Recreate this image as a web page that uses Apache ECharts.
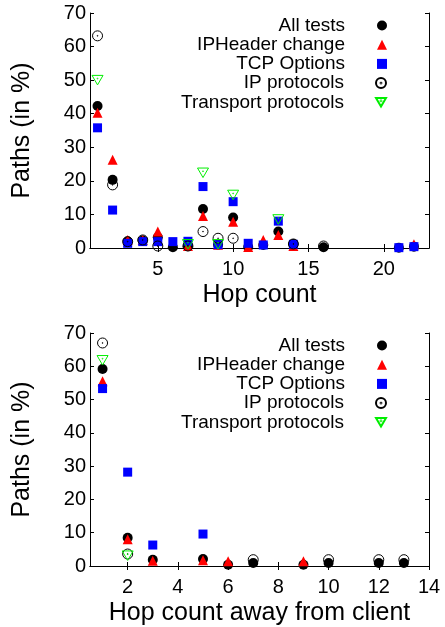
<!DOCTYPE html>
<html>
<head>
<meta charset="utf-8">
<script src="https://cdn.jsdelivr.net/npm/echarts@6/dist/echarts.min.js"></script>
<style>
  html, body { margin: 0; padding: 0; background: #fff; }
  #chart { width: 445px; height: 627px; }
</style>
</head>
<body>
<div id="chart"></div>
<script>
// series names (legend order)
const seriesNames = ['All tests', 'IPHeader change', 'TCP Options', 'IP protocols', 'Transport protocols'];

// top chart: [hop count, % of paths]
const topAll = [[1, 42.3], [2, 20.3], [3, 1.9], [4, 2.2], [5, 3.2], [6, 0.2], [7, 0.5], [8, 11.6], [9, 1.0], [10, 9.1], [11, 0.3], [12, 0.9], [13, 4.9], [14, 1.2], [16, 0.2], [21, 0.1], [22, 0.4]];
const topIPHeader = [[1, 40.3], [2, 26.3], [3, 2.4], [4, 2.4], [5, 4.9], [7, 0.6], [8, 9.5], [9, 1.0], [10, 7.8], [11, 0.3], [12, 2.4], [13, 3.9], [14, 0.6], [22, 1.1]];
const topTCP = [[1, 35.8], [2, 11.3], [3, 1.4], [4, 1.9], [5, 1.9], [6, 1.9], [7, 2.0], [8, 18.3], [9, 1.0], [10, 13.8], [11, 1.4], [12, 0.9], [13, 8.0], [14, 1.1], [21, 0.1], [22, 0.4]];
const topIPProto = [[1, 63.2], [2, 18.8], [3, 1.9], [4, 2.4], [5, 0.6], [7, 0.6], [8, 4.9], [9, 2.9], [10, 2.9], [14, 1.2], [16, 0.6]];
const topTransport = [[1, 50.0], [7, 1.1], [8, 22.4], [9, 1.1], [10, 15.8], [13, 8.5]];

// bottom chart: [hop count away from client, % of paths]
const botAll = [[1, 59.2], [2, 8.5], [3, 1.9], [5, 2.1], [6, 0.4], [7, 0.9], [9, 0.4], [10, 0.9], [12, 0.9], [13, 0.9]];
const botIPHeader = [[1, 55.5], [2, 8.0], [3, 1.6], [5, 1.7], [6, 1.4], [9, 1.4]];
const botTCP = [[1, 53.3], [2, 28.2], [3, 6.3], [5, 9.6]];
const botIPProto = [[1, 67.0], [2, 3.6], [7, 1.9], [10, 1.9], [12, 1.9], [13, 1.9]];
const botTransport = [[1, 61.8], [2, 3.1]];

// axis ticks
const topXTicks = [5, 10, 15, 20];
const botXTicks = [2, 4, 6, 8, 10, 12, 14];

const chart = echarts.init(document.getElementById('chart'), null, { renderer: 'canvas' });

const FONT = 'Liberation Sans';
const ringDot = 'path://M10 0A10 10 0 1 1 10 20A10 10 0 1 1 10 0ZM10 9.2A0.8 0.8 0 1 1 10 10.8A0.8 0.8 0 1 1 10 9.2Z';
const downTriDot = 'path://M0 0L20 0L10 17.3ZM10 5A0.8 0.8 0 1 1 10 6.6A0.8 0.8 0 1 1 10 5Z';

// marker style per series
const styles = [
  { symbol: 'circle', symbolSize: 10, itemStyle: { color: '#000', opacity: 1 } },
  { symbol: 'triangle', symbolSize: 10, itemStyle: { color: '#ff0000', opacity: 1 } },
  { symbol: 'rect', symbolSize: 9, itemStyle: { color: '#0000ff', opacity: 1 } },
  { symbol: ringDot, symbolSize: 10, itemStyle: { color: 'rgba(0,0,0,0)', borderColor: '#000', borderWidth: 1, opacity: 1 } },
  { symbol: downTriDot, symbolSize: 11, itemStyle: { color: 'rgba(0,0,0,0)', borderColor: '#00ee00', borderWidth: 1, opacity: 1 } }
];

const topData = [topAll, topIPHeader, topTCP, topIPProto, topTransport];
const botData = [botAll, botIPHeader, botTCP, botIPProto, botTransport];

function makeSeries(dataList, axisIdx) {
  return dataList.map((d, i) => Object.assign({
    name: seriesNames[i],
    type: 'scatter',
    xAxisIndex: axisIdx,
    yAxisIndex: axisIdx,
    data: d,
    z: 2 + i,
    symbolKeepAspect: true,
    emphasis: { disabled: true }
  }, styles[i]));
}

function xAxes(gridIdx, max, ticks, name) {
  const base = {
    gridIndex: gridIdx, type: 'value', min: 0.5, max: max,
    axisLine: { show: true, lineStyle: { color: '#000', width: 1 } },
    splitLine: { show: false }
  };
  return [
    Object.assign({}, base, {
      position: 'bottom',
      axisTick: { show: true, inside: true, length: 4, customValues: ticks, lineStyle: { color: '#000' } },
      axisLabel: { customValues: ticks, margin: 11, fontSize: 20, fontFamily: FONT, color: '#000' },
      name: name, nameLocation: 'middle', nameGap: 35,
      nameTextStyle: { fontSize: 25, fontFamily: FONT, color: '#000' }
    }),
    Object.assign({}, base, {
      position: 'top',
      axisTick: { show: true, inside: true, length: 4, customValues: ticks, lineStyle: { color: '#000' } },
      axisLabel: { show: false }
    })
  ];
}

function yAxes(gridIdx) {
  const base = {
    gridIndex: gridIdx, type: 'value', min: 0, max: 70, interval: 10,
    axisLine: { show: true, lineStyle: { color: '#000', width: 1 } },
    splitLine: { show: false },
    axisTick: { show: true, inside: true, length: 4, lineStyle: { color: '#000' } }
  };
  return [
    Object.assign({}, base, {
      position: 'left',
      axisLabel: { margin: 4, fontSize: 20, fontFamily: FONT, color: '#000' },
      name: 'Paths (in %)', nameLocation: 'middle', nameGap: 55,
      nameTextStyle: { fontSize: 25, fontFamily: FONT, color: '#000' }
    }),
    Object.assign({}, base, { position: 'right', axisLabel: { show: false } })
  ];
}

// one legend per row so the icons line up on the right
function legends(plotTop) {
  return seriesNames.map((n, i) => ({
    data: [n],
    orient: 'vertical',
    align: 'right',
    right: 58,
    top: plotTop + 3 + i * 19.2,
    padding: 0,
    itemWidth: 10,
    itemHeight: 10,
    itemGap: 0,
    selectedMode: false,
    textStyle: { fontSize: 19, fontFamily: FONT, color: '#000', lineHeight: 19, padding: [0, 27, 0, 0] }
  }));
}

const option = {
  animation: false,
  grid: [
    { left: 90, top: 13, width: 339, height: 235 },
    { left: 90, top: 333, width: 339, height: 235 }
  ],
  xAxis: xAxes(0, 23, topXTicks, 'Hop count').concat(xAxes(1, 14, botXTicks, 'Hop count away from client')),
  yAxis: yAxes(0).concat(yAxes(1)),
  legend: legends(13).concat(legends(333)),
  series: makeSeries(topData, 0).concat(makeSeries(botData, 2))
};

chart.setOption(option);
</script>
</body>
</html>
